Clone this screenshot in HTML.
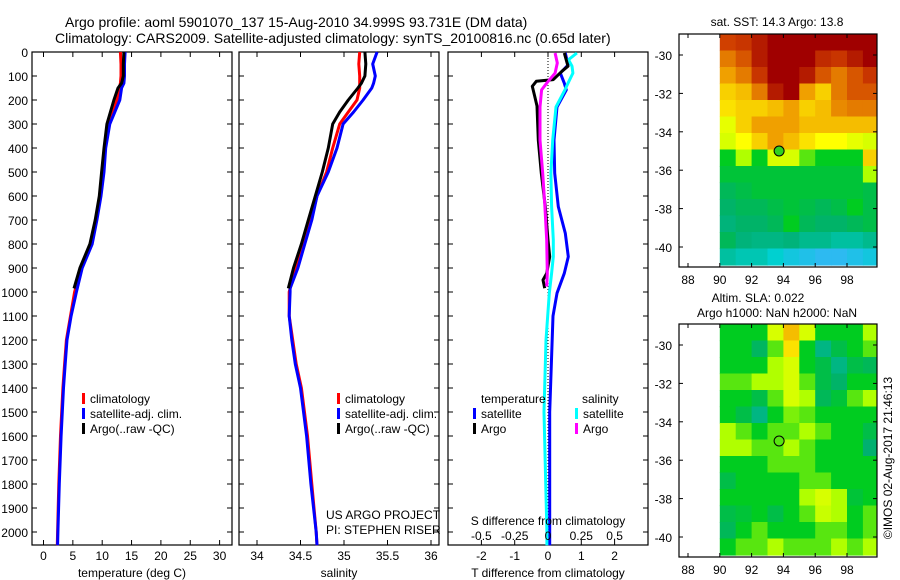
<!DOCTYPE html>
<html><head><meta charset="utf-8"><style>
html,body{margin:0;padding:0;background:#fff;}
svg{display:block;font-family:"Liberation Sans",sans-serif;}
</style></head><body>
<svg id="chart" width="900" height="580" viewBox="0 0 900 580" xmlns="http://www.w3.org/2000/svg">
<defs><clipPath id="clipMap1"><rect x="679" y="34" width="198" height="233"/></clipPath><clipPath id="clipMap2"><rect x="679" y="324" width="198" height="233"/></clipPath></defs>
<text x="65" y="27" font-size="14">Argo profile: aoml 5901070_137 15-Aug-2010 34.999S 93.731E (DM data)</text>
<text x="55" y="43" font-size="14">Climatology: CARS2009. Satellite-adjusted climatology: synTS_20100816.nc (0.65d later)</text>
<g id="g"></g>
</svg>
<script>
// ---- data ----
const depthTicks=[0,100,200,300,400,500,600,700,800,900,1000,1100,1200,1300,1400,1500,1600,1700,1800,1900,2000];
const tempTicks=[0,5,10,15,20,25,30];
const salTicks=[34,34.5,35,35.5,36];
const tdiffTicks=[-2,-1,0,1,2];
const sdiffTicks=[-0.5,-0.25,0,0.25,0.5];
const tempDepth=[0,50,100,130,150,200,300,400,500,600,700,800,900,1000,1100,1200,1300,1400,1600,1800,2000,2055];
const tempClim=[13.1,13.2,13.2,13.1,12.9,12.5,11.0,10.4,10.1,9.6,9.0,8.1,6.4,5.3,4.6,3.9,3.6,3.3,2.9,2.6,2.4,2.35];
const tempSat=[13.9,13.8,13.8,13.7,13.3,13.0,11.3,10.6,10.3,9.8,9.1,8.3,6.6,5.6,4.7,4.0,3.7,3.4,3.0,2.7,2.45,2.4];
const argoDepth=[0,50,100,130,150,200,300,400,500,600,700,800,900,985];
const tempArgo=[13.7,13.6,13.6,13.3,12.7,12.0,10.8,10.3,9.9,9.5,8.8,7.9,6.2,5.2];
const salDepth=[0,50,100,130,150,200,250,300,400,500,600,700,800,900,985,1000,1100,1200,1300,1400,1600,1800,2000,2055];
const salClim=[35.18,35.17,35.18,35.18,35.18,35.15,35.05,34.95,34.87,34.8,34.69,34.62,34.54,34.45,34.38,34.37,34.37,34.41,34.45,34.51,34.58,34.63,34.68,34.69];
const salSat=[35.38,35.33,35.36,35.34,35.32,35.22,35.11,34.99,34.92,34.82,34.69,34.63,34.55,34.47,34.38,34.38,34.37,34.4,34.44,34.5,34.57,34.62,34.68,34.69];
const salArgoDepth=[0,50,100,130,150,200,250,300,400,500,600,700,800,900,985];
const salArgo=[35.24,35.25,35.24,35.2,35.16,35.05,34.95,34.87,34.82,34.75,34.67,34.59,34.51,34.42,34.36];
const dDepth=[4,54,88,130,158,229,367,505,644,755,853,922,1005,1100,1500,2000,2055];
const tdiffSat=[0.52,0.6,0.37,0.49,0.55,0.27,0.18,0.2,0.31,0.52,0.61,0.49,0.27,0.15,0.05,0.05,0.05];
const tdArgoDepth=[4,59,80,115,122,143,184,225,367,505,644,783,853,922,950,984];
const tdiffArgo=[0.49,0.6,0.42,0.16,-0.35,-0.47,-0.4,-0.33,-0.29,-0.2,-0.08,0,0.05,-0.04,-0.15,-0.1];
const sdDepth=[4,32,59,88,130,158,229,367,505,644,783,853,922,1005,1200,1500,2000,2055];
const sdiffSat=[0.217,0.154,0.18,0.187,0.15,0.127,0.06,0.035,0.022,0.027,0.04,0.04,0.027,0.01,-0.015,-0.03,-0.008,-0.008];
const sdArgoDepth=[4,46,88,130,158,229,367,505,644,783,922,977];
const sdiffArgo=[0.053,0.07,0.053,-0.01,-0.048,-0.06,-0.06,-0.04,-0.023,-0.01,-0.005,-0.01];
const lonTicks=[88,90,92,94,96,98];
const latTicks=[-30,-32,-34,-36,-38,-40];
const sstGrid=[
[0.88,0.9,0.95,1,1,1,1,1,1,1],
[0.8,0.85,0.95,1,1,1,0.92,0.9,0.95,1],
[0.75,0.8,0.9,1,1,0.95,0.85,0.8,0.85,0.9],
[0.7,0.72,0.8,0.95,1,0.75,0.7,0.8,0.85,0.85],
[0.68,0.7,0.7,0.72,0.75,0.7,0.72,0.78,0.8,0.8],
[0.62,0.7,0.75,0.75,0.75,0.72,0.72,0.72,0.72,0.72],
[0.6,0.65,0.7,0.75,0.72,0.68,0.65,0.65,0.62,0.6],
[0.45,0.55,0.45,0.6,0.6,0.5,0.45,0.45,0.45,0.7],
[0.42,0.42,0.42,0.42,0.42,0.42,0.42,0.42,0.42,0.55],
[0.38,0.4,0.42,0.42,0.42,0.42,0.42,0.42,0.42,0.4],
[0.36,0.38,0.38,0.4,0.42,0.4,0.38,0.4,0.45,0.4],
[0.34,0.36,0.36,0.38,0.45,0.38,0.36,0.36,0.38,0.4],
[0.38,0.34,0.33,0.33,0.34,0.32,0.32,0.3,0.3,0.32],
[0.3,0.28,0.28,0.25,0.22,0.2,0.18,0.18,0.2,0.22]];
const slaGrid=[
[0.45,0.45,0.45,0.6,0.72,0.6,0.45,0.45,0.45,0.55],
[0.45,0.45,0.37,0.5,0.68,0.45,0.33,0.4,0.45,0.5],
[0.45,0.45,0.45,0.55,0.6,0.45,0.4,0.33,0.4,0.38],
[0.5,0.5,0.55,0.55,0.6,0.5,0.4,0.36,0.45,0.45],
[0.45,0.45,0.4,0.5,0.6,0.55,0.38,0.42,0.5,0.55],
[0.45,0.4,0.33,0.45,0.52,0.5,0.45,0.45,0.45,0.45],
[0.55,0.5,0.45,0.5,0.5,0.55,0.5,0.45,0.45,0.4],
[0.55,0.55,0.5,0.5,0.55,0.5,0.45,0.45,0.45,0.35],
[0.45,0.45,0.45,0.5,0.5,0.5,0.45,0.45,0.45,0.45],
[0.4,0.45,0.45,0.45,0.45,0.5,0.5,0.45,0.45,0.45],
[0.45,0.45,0.45,0.45,0.45,0.55,0.6,0.55,0.42,0.45],
[0.4,0.42,0.45,0.4,0.45,0.5,0.58,0.55,0.45,0.5],
[0.38,0.45,0.5,0.45,0.45,0.45,0.5,0.5,0.45,0.5],
[0.45,0.5,0.5,0.55,0.5,0.5,0.5,0.55,0.5,0.55]];
const argoLon=93.73, argoLat=-35.0;

// ---- helpers ----
const NS='http://www.w3.org/2000/svg';
const G=document.getElementById('g');
function mk(tag,attrs,parent){const e=document.createElementNS(NS,tag);for(const k in attrs)e.setAttribute(k,attrs[k]);(parent||G).appendChild(e);return e;}
function txt(s,x,y,anchor,size,name){const t=mk('text',{x:x,y:y,'text-anchor':anchor||'start','font-size':size||12});t.textContent=s;


return t;}
const top0=52, bot0=545;
const yD=d=>top0+0.24*d;
const xT=v=>43.5+5.87*v;
const xS=v=>257+87*(v-34);
const xTd=v=>548+33.3*v;
const xSd=v=>548+133.2*v;
function line(x1,y1,x2,y2,name,extra){const l=mk('line',Object.assign({x1:x1,y1:y1,x2:x2,y2:y2,stroke:'#000','stroke-width':1},extra||{}));


return l;}
function panel(x0,x1,ticks,xf,labels,name){
  const r=mk('rect',{x:x0,y:top0,width:x1-x0,height:bot0-top0,fill:'none',stroke:'#000','stroke-width':1.2});
  
  
  depthTicks.forEach(d=>{line(x0,yD(d),x0+5,yD(d),name+'-ytick');line(x1-5,yD(d),x1,yD(d),name+'-ytick');});
  ticks.forEach((v,i)=>{const x=xf(v);line(x,top0,x,top0+5,name+'-xtick');line(x,bot0-5,x,bot0,name+'-xtick');
    if(labels)txt(labels[i],x,560,'middle',12,name+'-xtick-label');});
}
function series(depths,vals,xf,color,name){
  const pts=depths.map((d,i)=>xf(vals[i]).toFixed(1)+','+yD(d).toFixed(1));
  const p=mk('polyline',{points:pts.join(' '),fill:'none',stroke:color,'stroke-width':3,'stroke-linejoin':'round'});
  
  
}
function legendEntry(x,y,color,label,name){
  const r=mk('rect',{x:x,y:y-10,width:3,height:11,fill:color});
  
  
  txt(label,x+8,y,'start',12,name);
}

depthTicks.forEach(d=>txt(String(d),28,yD(d)+5,'end',12,'depth-tick-label'));

// panel 1 temperature
panel(32,232,tempTicks,xT,tempTicks.map(String),'temperature-panel');
series(tempDepth,tempClim,xT,'#ff0000','temp-climatology-line');
series(tempDepth,tempSat,xT,'#0000ff','temp-satellite-line');
series(argoDepth,tempArgo,xT,'#000000','temp-argo-line');
txt('temperature (deg C)',132,577,'middle',12,'temperature-axis-title');
legendEntry(82,403,'#ff0000','climatology','temp-legend-climatology');
legendEntry(82,418,'#0000ff','satellite-adj. clim.','temp-legend-satellite');
legendEntry(82,433,'#000000','Argo(..raw -QC)','temp-legend-argo');

// panel 2 salinity
panel(239,439,salTicks,xS,salTicks.map(String),'salinity-panel');
series(salDepth,salClim,xS,'#ff0000','sal-climatology-line');
series(salDepth,salSat,xS,'#0000ff','sal-satellite-line');
series(salArgoDepth,salArgo,xS,'#000000','sal-argo-line');
txt('salinity',339,577,'middle',12,'salinity-axis-title');
legendEntry(337,403,'#ff0000','climatology','sal-legend-climatology');
legendEntry(337,418,'#0000ff','satellite-adj. clim.','sal-legend-satellite');
legendEntry(337,433,'#000000','Argo(..raw -QC)','sal-legend-argo');
txt('US ARGO PROJECT',326,519,'start',12,'project-label');
txt('PI: STEPHEN RISER',326,534,'start',12,'pi-label');

// panel 3 differences
panel(448,648,tdiffTicks,xTd,tdiffTicks.map(String),'difference-panel');
for(let y=top0;y<bot0;y+=3){line(548,y,548,y+1,'zero-dotted-line');}
series(dDepth,tdiffSat,xTd,'#0000ff','tdiff-satellite-line');
series(sdDepth,sdiffSat,xSd,'#00ffff','sdiff-satellite-line');
series(tdArgoDepth,tdiffArgo,xTd,'#000000','tdiff-argo-line');
series(sdArgoDepth,sdiffArgo,xSd,'#ff00ff','sdiff-argo-line');
sdiffTicks.forEach(v=>txt(String(v),xSd(v),540,'middle',12,'sdiff-tick-label'));
txt('S difference from climatology',548,525,'middle',12,'sdiff-axis-title');
txt('T difference from climatology',548,577,'middle',12,'tdiff-axis-title');
txt('temperature',481,403,'start',12,'legend-temperature-header');
txt('salinity',582,403,'start',12,'legend-salinity-header');
legendEntry(473,418,'#0000ff','satellite','legend-tdiff-satellite');
legendEntry(473,433,'#000000','Argo','legend-tdiff-argo');
legendEntry(575,418,'#00ffff','satellite','legend-sdiff-satellite');
legendEntry(575,433,'#ff00ff','Argo','legend-sdiff-argo');

// colormap
const stops=[[0.15,[64,176,255]],[0.25,[0,208,208]],[0.35,[0,176,112]],[0.45,[0,204,32]],[0.55,[176,255,0]],[0.65,[255,255,0]],[0.75,[240,160,0]],[0.88,[208,64,0]],[1,[160,0,0]]];
function cmap(v){if(v<=stops[0][0])return 'rgb('+stops[0][1]+')';
 for(let i=1;i<stops.length;i++){if(v<=stops[i][0]){const a=stops[i-1],b=stops[i],t=(v-a[0])/(b[0]-a[0]);
  return 'rgb('+a[1].map((c,k)=>Math.round(c+(b[1][k]-c)*t)).join(',')+')';}}
 return 'rgb('+stops[stops.length-1][1]+')';}

function map(yTop,grid,name,clip){
  const fx0=679,fx1=877,fy0=yTop,fy1=yTop+233;
  const xL=v=>688+15.9*(v-88);
  const yL=v=>yTop+21+19.2*(-30-v);
  const latTop=-30+21/19.2, latBot=-30-(231-21)/19.2;
  const rows=grid.length, cols=grid[0].length;
  const dLat=(latTop-latBot)/rows;
  const cg=mk('g',{'clip-path':'url(#'+clip+')'});
  
  
  for(let r=0;r<rows;r++)for(let c=0;c<cols;c++){
    const x=xL(90+c), w=xL(91+c)-x, y=yL(latTop-r*dLat), h=yL(latTop-(r+1)*dLat)-y;
    const e=mk('rect',{x:x,y:y,width:w+0.6,height:h+0.6,fill:cmap(grid[r][c])},cg);
    
    
  }
  const fr=mk('rect',{x:fx0,y:fy0,width:fx1-fx0,height:fy1-fy0,fill:'none',stroke:'#000','stroke-width':1.2});
  
  
  lonTicks.forEach(v=>{const x=xL(v);line(x,fy0,x,fy0+4,name+'-lon-tick');line(x,fy1-4,x,fy1,name+'-lon-tick');txt(String(v),x,fy1+17,'middle',12,name+'-lon-label');});
  latTicks.forEach(v=>{const y=yL(v);line(fx0,y,fx0+4,y,name+'-lat-tick');line(fx1-4,y,fx1,y,name+'-lat-tick');txt(String(v),672,y+5,'end',12,name+'-lat-label');});
  const c=mk('circle',{cx:xL(argoLon),cy:yL(argoLat),r:5,fill:name==='sst-map'?'#30d020':'none',stroke:'#000','stroke-width':1});
  
  
}
map(34,sstGrid,'sst-map','clipMap1');
map(324,slaGrid,'sla-map','clipMap2');
txt('sat. SST: 14.3 Argo: 13.8',777,26,'middle',12,'sst-map-title');
txt('Altim. SLA: 0.022',758,302,'middle',12,'sla-map-title');
txt('Argo h1000: NaN h2000: NaN',777,317,'middle',12,'sla-map-subtitle');
const cr=txt('\u00A9IMOS 02-Aug-2017 21:46:13',0,0,'middle',12,'copyright-label');
cr.setAttribute('transform','translate(892,458) rotate(-90)');
</script>
</body></html>
